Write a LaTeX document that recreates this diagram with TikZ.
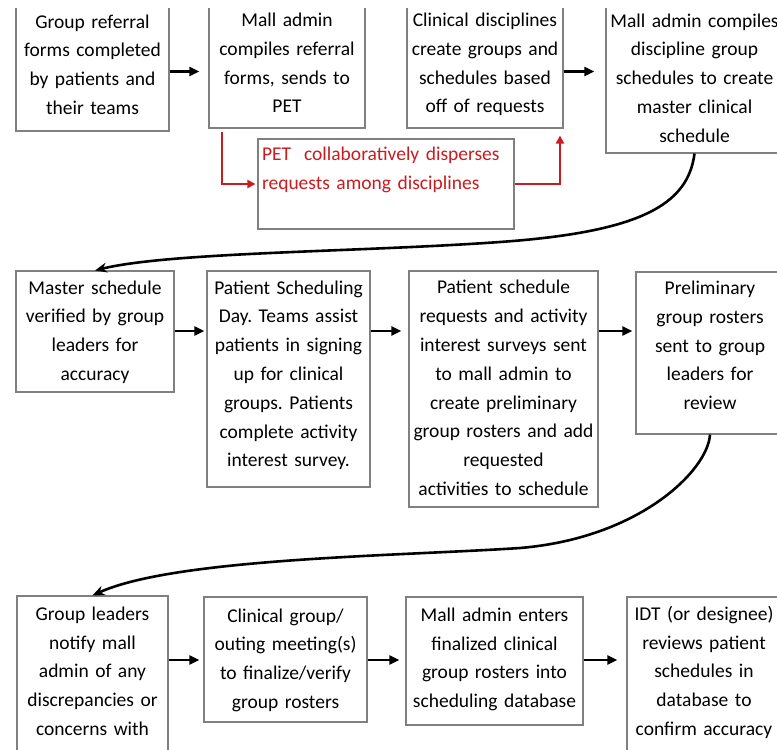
\documentclass[tikz,border=0pt]{standalone}
\usepackage{fontspec}
\setmainfont{Carlito}
\usetikzlibrary{arrows.meta}
\definecolor{boxgray}{RGB}{128,128,128}
\definecolor{flowred}{RGB}{200,28,32}
% extra depth under the last line, to lift a text block inside its box
\newcommand\padbelow[1]{\rule[-#1]{0pt}{#1}}
\frenchspacing
\begin{document}
\begin{tikzpicture}[x=1pt,y=-1pt,
  box/.style={draw=boxgray, line width=1.1pt, align=center, inner sep=0pt,
    font=\fontsize{19.5}{28.8}\selectfont, text=black,
    execute at begin node=\strut, execute at end node=\strut},
  redbox/.style={box, align=left, text=flowred},
  arr/.style={line width=2.4pt, -{Triangle[length=10pt,width=9pt]}},
  redarr/.style={draw=flowred, line width=2.7pt, -{Triangle[length=8pt,width=8pt]}},
  bendarr/.style={line width=2.6pt, -{Stealth[length=12pt,width=10pt]}}]
\useasboundingbox (0,0) rectangle (777,750);
\fill[white] (0,0) rectangle (777,750);
\begin{scope}
\clip (0,8) rectangle (777,750);

% levels of the horizontal arrows and x positions of the red elbows
\coordinate (row1) at (0,71.5);
\coordinate (row2) at (0,331);
\coordinate (row3) at (0,660);
\coordinate (rx1) at (222,0);
\coordinate (rx2) at (560,0);

% first row
\node[box, minimum width=153pt, minimum height=131pt, text width=145pt] (A) at (92.5,65.5)
  {Group referral\\forms completed\\by patients and\\their teams};
\node[box, minimum width=156pt, minimum height=128pt, text width=148pt] (B) at (287,64)
  {Mall admin\\compiles referral\\forms, sends to\\PET};
\node[box, minimum width=156pt, minimum height=128pt, text width=148pt] (C) at (485,64)
  {Clinical disciplines\\create groups and\\schedules based\\off of requests};
\node[box, minimum width=177pt, minimum height=148pt, text width=169pt] (D) at (694.5,79)
  {Mall admin compiles\\discipline group\\schedules to create\\master clinical\\schedule};
\node[redbox, minimum width=256pt, minimum height=90pt, text width=248pt] (E) at (386,184)
  {PET~ collaboratively disperses\\requests among disciplines\\};

% second row
\node[box, minimum width=158pt, minimum height=121pt, text width=150pt] (F) at (95,331.5)
  {Master schedule\\verified by group\\leaders for\\accuracy};
\node[box, minimum width=163pt, minimum height=216pt, text width=155pt] (G) at (288.5,379)
  {Patient Scheduling\\Day. Teams assist\\patients in signing\\up for clinical\\groups. Patients\\complete activity\\interest survey.\padbelow{17pt}};
\node[box, minimum width=189pt, minimum height=236pt, text width=181pt] (H) at (503.5,389)
  {Patient schedule\\requests and activity\\interest surveys sent\\to mall admin to\\create preliminary\\group rosters and add\\requested\\activities to schedule};
\node[box, minimum width=148pt, minimum height=162pt, text width=140pt] (I) at (710,353)
  {Preliminary\\group rosters\\sent to group\\leaders for\\review\padbelow{22pt}};

% third row
\node[box, minimum width=151pt, minimum height=181pt, text width=143pt] (J) at (92.5,686.5)
  {Group leaders\\notify mall\\admin of any\\discrepancies or\\concerns with\\};
\node[box, minimum width=163pt, minimum height=125pt, text width=155pt] (K) at (285.5,659.5)
  {Clinical group/\\outing meeting(s)\\to finalize/verify\\group rosters};
\node[box, minimum width=177pt, minimum height=128pt, text width=169pt] (L) at (494.5,661)
  {Mall admin enters\\finalized clinical\\group rosters into\\scheduling database\padbelow{13pt}};
\node[box, minimum width=154pt, minimum height=179pt, text width=146pt] (M) at (704,686.5)
  {IDT (or designee)\\reviews patient\\schedules in\\database to\\confirm accuracy\\};

% straight arrows along each row
\draw[arr, shorten >=9pt] (A.east |- row1) -- (B.west |- row1);
\draw[arr, shorten >=11pt] (C.east |- row1) -- (D.west |- row1);
\draw[arr, shorten >=2pt] (F.east |- row2) -- (G.west |- row2);
\draw[arr, shorten >=7pt] (G.east |- row2) -- (H.west |- row2);
\draw[arr, shorten >=3pt] (H.east |- row2) -- (I.west |- row2);
\draw[arr, shorten >=4pt] (J.east |- row3) -- (K.west |- row3);
\draw[arr, shorten >=6pt] (K.east |- row3) -- (L.west |- row3);
\draw[arr, shorten >=9pt] (L.east |- row3) -- (M.west |- row3);

% red side branch through PET
\draw[redarr, shorten <=3pt, shorten >=2pt] (B.south -| rx1) |- (E.west);
\draw[redarr, shorten >=7pt] (E.east) -| (rx2 |- C.south);

% sweeping arrows from the end of one row to the start of the next
\draw[bendarr] (D.south) .. controls (688,205) and (640,232) .. (500,242)
  .. controls (360,252) and (170,252) .. (F.north);
\draw[bendarr] (I.south) .. controls (708,470) and (640,538) .. (520,548)
  .. controls (400,556) and (175,558) .. (J.north);
\end{scope}
\end{tikzpicture}
\end{document}
